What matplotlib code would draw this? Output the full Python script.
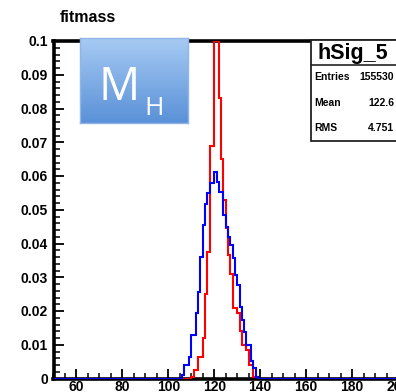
import numpy as np
import matplotlib
matplotlib.use('Agg')
import matplotlib.pyplot as plt
from matplotlib.ticker import MultipleLocator, FuncFormatter
from matplotlib.patches import Rectangle

# histogram binning (1 GeV bins, 50-200)
bin_lo = 50
bin_hi = 200

# red histogram, bin contents starting at 110
red_start = 110
red_vals = [0.0004, 0.0024, 0.0024, 0.0063, 0.0063, 0.012, 0.025, 0.0375, 0.069, 0.069,
            0.1, 0.1, 0.083, 0.065, 0.053, 0.0445, 0.0365, 0.031, 0.021, 0.021,
            0.0195, 0.014, 0.0098, 0.0098, 0.0083, 0.0039, 0.0039, 0.0005, 0.0003]

# blue histogram, bin contents starting at 106
blue_start = 106
blue_vals = [0.0009, 0.0039, 0.0039, 0.0063, 0.0128, 0.0128, 0.0193, 0.0256, 0.036, 0.0454,
             0.0518, 0.055, 0.058, 0.058, 0.0612, 0.0583, 0.0553, 0.0553, 0.0484, 0.045,
             0.042, 0.0395, 0.0356, 0.0306, 0.0276, 0.0212, 0.0172, 0.0138, 0.0098, 0.0098,
             0.0053, 0.003, 0.0004]

stat_names = ['Entries', 'Mean', 'RMS']
stat_values = ['155530', '122.6', '4.751']

edges = np.arange(bin_lo, bin_hi + 1)
red = np.zeros(len(edges) - 1)
red[red_start - bin_lo:red_start - bin_lo + len(red_vals)] = red_vals
blue = np.zeros(len(edges) - 1)
blue[blue_start - bin_lo:blue_start - bin_lo + len(blue_vals)] = blue_vals

W, H = 396, 392
fig = plt.figure(figsize=(W / 100, H / 100), dpi=100)
ax = fig.add_axes([53.5 / W, 1 - 378.5 / H, 344.5 / W, 337.5 / H])

ax.stairs(red, edges, color='#ff0000', lw=1.5, zorder=3)
ax.stairs(blue, edges, color='#0000ff', lw=1.5, zorder=3)

ax.set_xlim(bin_lo, bin_hi)
ax.set_ylim(0, 0.1)
ax.xaxis.set_major_locator(MultipleLocator(20))
ax.xaxis.set_minor_locator(MultipleLocator(5))
ax.yaxis.set_major_locator(MultipleLocator(0.01))
ax.yaxis.set_minor_locator(MultipleLocator(0.002))
ax.yaxis.set_major_formatter(FuncFormatter(lambda v, p: '%g' % round(v, 3)))
ax.set_xticks(np.arange(60, 201, 20))

tfont = matplotlib.font_manager.FontProperties(family='Liberation Sans', weight='bold', size=10)
ax.tick_params(which='both', direction='in', top=False, right=False, color='black')
ax.tick_params(which='major', length=7, width=1.3)
ax.tick_params(which='minor', length=4, width=1.1)
ax.tick_params(axis='x', pad=1)
ax.tick_params(axis='y', pad=4)
for lab in ax.get_xticklabels() + ax.get_yticklabels():
    lab.set_fontproperties(tfont)

for s in ['left', 'top', 'bottom']:
    ax.spines[s].set_linewidth(2.6)
ax.spines['right'].set_visible(False)

fig.text(60 / W, 1 - 18 / H, 'fitmass', fontsize=11.5, fontweight='bold',
         family='Liberation Sans', ha='left', va='center')

# stats box
bx0, by0, by1 = 311 / W, 1 - 141 / H, 1 - 40 / H
fig.patches.append(Rectangle((bx0, by0), 1 - bx0 + 0.01, by1 - by0, transform=fig.transFigure,
                             facecolor='white', edgecolor='#222222', lw=1.3, zorder=5))
fig.lines.append(plt.Line2D([bx0, 1], [1 - 65 / H] * 2, transform=fig.transFigure,
                            color='#222222', lw=1.2, zorder=6))
fig.text(353 / W, 1 - 53 / H, 'hSig_5', fontsize=15.5, fontweight='bold',
         family='Liberation Sans', ha='center', va='center', zorder=7)
for i, (n, v) in enumerate(zip(stat_names, stat_values)):
    yy = 1 - (77 + 25.5 * i) / H
    fig.text(314 / W, yy, n, fontsize=7.5, fontweight='bold', family='Liberation Sans',
             ha='left', va='center', zorder=7)
    fig.text(394 / W, yy, v, fontsize=7.5, fontweight='bold', family='Liberation Sans',
             ha='right', va='center', zorder=7)

# M_H label box with gradient
shadow = fig.add_axes([82 / W, 1 - 126 / H, 108 / W, 85 / H], zorder=7)
shadow.set_axis_off()
shadow.patch.set_visible(True)
shadow.patch.set_facecolor('#c8c8c8')
shadow.patch.set_alpha(0.5)
box = fig.add_axes([79.5 / W, 1 - 123 / H, 108 / W, 85 / H], zorder=8)
grad = np.linspace(0, 1, 100).reshape(-1, 1)
cmap = matplotlib.colors.LinearSegmentedColormap.from_list('g', ['#a6caf3', '#5a91d8'])
box.imshow(grad, aspect='auto', cmap=cmap, extent=[0, 1, 0, 1])
box.set_xticks([])
box.set_yticks([])
for s in box.spines.values():
    s.set_color('#8fb6e6')
    s.set_linewidth(1)
box.text(0.18, 0.27, 'M', color='white', fontsize=33, family='Open Sans',
         ha='left', va='baseline', transform=box.transAxes)
box.text(0.60, 0.09, 'H', color='white', fontsize=19, family='Open Sans',
         ha='left', va='baseline', transform=box.transAxes)

fig.savefig('out.png', dpi=100)
